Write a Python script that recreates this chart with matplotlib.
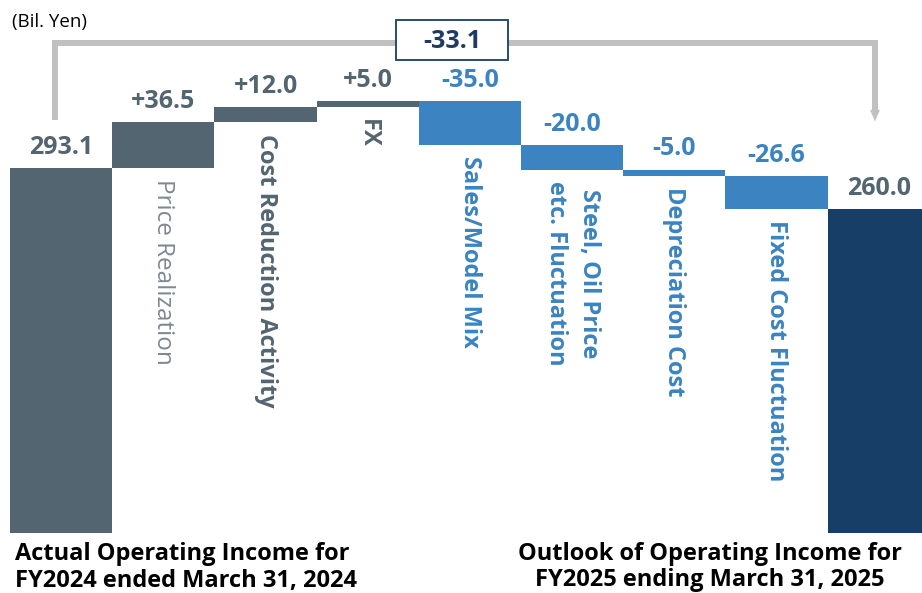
import matplotlib.pyplot as plt
from matplotlib.patches import Rectangle

plt.rcParams["font.family"] = ["Open Sans", "DejaVu Sans"]

# data (Bil. Yen)
start_value = 293.1
end_value = 260.0
steps = [36.5, 12.0, 5.0, -35.0, -20.0, -5.0, -26.6]
step_labels = [
    "Price Realization",
    "Cost Reduction Activity",
    "FX",
    "Sales/Model Mix",
    "Steel, Oil Price\netc. Fluctuation",
    "Depreciation Cost",
    "Fixed Cost Fluctuation",
]
value_texts = ["293.1", "+36.5", "+12.0", "+5.0", "-35.0", "-20.0", "-5.0", "-26.6", "260.0"]
total_change = "-33.1"
start_caption = "Actual Operating Income for\nFY2024 ended March 31, 2024"
end_caption = "Outlook of Operating Income for\nFY2025 ending March 31, 2025"

GRAY = "#536570"
LIGHT_GRAY = "#7d8891"
BLUE = "#3b84c1"
NAVY = "#173e66"
BRACKET = "#c0c0c0"

fig = plt.figure(figsize=(9.22, 5.93), dpi=100)
ax = fig.add_axes([0, 0, 1, 1])
ax.set_xlim(-0.598, 8.424)
ax.set_ylim(-48.2, 427.9)
ax.axis("off")

# waterfall bars
n = len(steps) + 2
bottoms, heights, colors = [0.0], [start_value], [GRAY]
level = start_value
for s in steps:
    lo = level if s > 0 else level + s
    bottoms.append(lo)
    heights.append(abs(s))
    colors.append(GRAY if s > 0 else BLUE)
    level += s
bottoms.append(0.0)
heights.append(end_value)
colors.append(NAVY)

ax.bar(range(n), heights, bottom=bottoms, width=1.0, color=colors, edgecolor="none")

# value labels above each bar
for i in range(n):
    top = bottoms[i] + heights[i]
    c = BLUE if (0 < i < n - 1 and steps[i - 1] < 0) else GRAY
    ax.annotate(value_texts[i], (i, top), xytext=(0, 6), textcoords="offset points",
                ha="center", va="bottom", fontsize=18, fontweight="bold", color=c)

# rotated category labels under step bars
for k, lab in enumerate(step_labels):
    i = k + 1
    if k == 0:
        c, w, fs = LIGHT_GRAY, "normal", 17.5
    elif steps[k] > 0:
        c, w, fs = GRAY, "bold", 17
    else:
        c, w, fs = BLUE, "bold", 17
    ax.annotate(lab, (i, bottoms[i]), xytext=(0, -8), textcoords="offset points",
                ha="center", va="top", rotation=-90, fontsize=fs, fontweight=w,
                color=c, linespacing=1.5)

# bracket from start to end with arrow
tf = ax.transAxes
lw = 4.3
ax.plot([0.0596, 0.0596, 0.949, 0.949], [1 - 120 / 593, 1 - 43 / 593, 1 - 43 / 593, 1 - 112 / 593],
        transform=tf, color=BRACKET, lw=lw, solid_joinstyle="miter", solid_capstyle="butt")
ax.annotate("", xy=(0.949, 1 - 124 / 593), xytext=(0.949, 1 - 108 / 593), xycoords="axes fraction",
            arrowprops=dict(arrowstyle="-|>,head_width=0.35,head_length=0.8", color=BRACKET, lw=0.1))

ax.add_patch(Rectangle((396 / 922, 1 - 60 / 593), 112 / 922, 40 / 593, transform=tf,
                       facecolor="white", edgecolor=NAVY, lw=1.3, zorder=3))
ax.text(452 / 922, 1 - 41 / 593, total_change, transform=tf, ha="center", va="center",
        fontsize=18, fontweight="bold", color="#1f3b63", zorder=4)

ax.text(12 / 922, 1 - 22 / 593, "(Bil. Yen)", transform=tf, ha="left", va="center",
        fontsize=13.5, color="black")

ax.text(15 / 922, 0.5 / 593, start_caption, transform=tf, ha="left", va="bottom",
        fontsize=17, fontweight="bold", color="black", linespacing=1.12)
ax.text(710 / 922, 0.5 / 593, end_caption, transform=tf, ha="center", va="bottom",
        fontsize=17, fontweight="bold", color="black", linespacing=1.12)

fig.savefig("out.png", dpi=100)
